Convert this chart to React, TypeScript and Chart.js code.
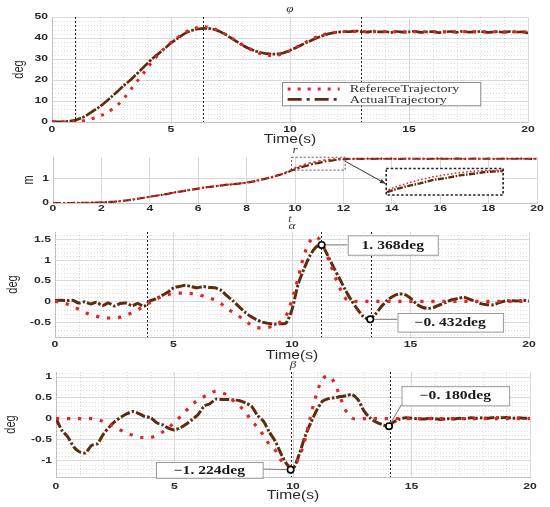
import React, { useEffect, useRef } from "react";
import { Chart, registerables } from "chart.js";
Chart.register(...registerables);

// ---------------- data (time step 0.25 s) ----------------
const T = [
  0, 0.25, 0.5, 0.75, 1, 1.25, 1.5, 1.75, 2, 2.25, 2.5, 2.75, 3, 3.25, 3.5, 3.75,
  4, 4.25, 4.5, 4.75, 5, 5.25, 5.5, 5.75, 6, 6.25, 6.5, 6.75, 7, 7.25, 7.5, 7.75,
  8, 8.25, 8.5, 8.75, 9, 9.25, 9.5, 9.75, 10, 10.25, 10.5, 10.75, 11, 11.25, 11.5, 11.75,
  12, 12.25, 12.5, 12.75, 13, 13.25, 13.5, 13.75, 14, 14.25, 14.5, 14.75, 15, 15.25, 15.5, 15.75,
  16, 16.25, 16.5, 16.75, 17, 17.25, 17.5, 17.75, 18, 18.25, 18.5, 18.75, 19, 19.25, 19.5, 19.75,
  20,
];

const PHI_REF = [
  0, 0, 0, 0,
  0.1, 0.4, 1.0, 1.8,
  2.8, 4.0, 5.8, 8.0,
  11.0, 14.6, 18.3, 21.8,
  25.6, 29.2, 32.4, 35.4,
  37.9, 40.0, 42.0, 43.6,
  44.6, 45.3, 45.3, 44.6,
  43.5, 42.0, 40.3, 38.5,
  36.8, 35.2, 33.8, 32.6,
  31.9, 31.6, 31.9, 32.8,
  34.0, 35.5, 37.0, 38.5,
  40.0, 41.0, 41.9, 42.4,
  42.8, 43.0, 43.1, 43.1,
  43.1, 43.0, 43.0, 43.0,
  43.0, 43.0, 43.0, 43.0,
  43.0, 43.0, 43.0, 43.0,
  43.0, 43.0, 43.0, 43.0,
  43.0, 43.0, 43.0, 43.0,
  43.0, 43.0, 43.0, 43.0,
  43.0, 43.0, 43.0, 43.0,
  43.0,
];
const PHI_ACT = [
  0.2, 0.1, 0.2, 0.4,
  0.9, 2.0, 3.5, 5.4,
  7.2, 9.5, 12.0, 14.5,
  17.2, 19.5, 22.2, 25.0,
  27.8, 30.5, 32.8, 35.2,
  37.6, 39.6, 41.6, 43.1,
  44.0, 44.5, 44.6, 44.3,
  43.3, 41.9, 40.2, 38.4,
  36.6, 35.1, 34.0, 33.1,
  32.6, 32.3, 32.4, 33.0,
  34.2, 35.4, 36.8, 38.1,
  39.4, 40.6, 41.6, 42.3,
  42.8, 43.0, 43.0, 43.4,
  43.0, 42.8, 43.3, 42.9,
  43.0, 42.7, 43.1, 42.8,
  42.9, 43.2, 42.7, 42.9,
  43.0, 42.6, 42.9, 43.1,
  42.7, 43.2, 42.8, 42.9,
  43.1, 42.7, 42.8, 43.0,
  42.7, 43.1, 42.8, 42.9,
  42.4,
];

const R_REF = [
  0, 0, 0, 0,
  0.005, 0.008, 0.012, 0.018,
  0.025, 0.035, 0.05, 0.07,
  0.1, 0.13, 0.17, 0.21,
  0.25, 0.29, 0.33, 0.37,
  0.42, 0.46, 0.5, 0.54,
  0.58, 0.62, 0.65, 0.68,
  0.71, 0.74, 0.76, 0.79,
  0.83, 0.87, 0.92, 0.98,
  1.04, 1.11, 1.19, 1.29,
  1.41, 1.5, 1.58, 1.64,
  1.69, 1.73, 1.76, 1.775,
  1.78, 1.78, 1.78, 1.78,
  1.78, 1.78, 1.78, 1.78,
  1.78, 1.78, 1.78, 1.78,
  1.78, 1.78, 1.78, 1.78,
  1.78, 1.78, 1.78, 1.78,
  1.78, 1.78, 1.78, 1.78,
  1.78, 1.78, 1.78, 1.78,
  1.78, 1.78, 1.78, 1.78,
  1.78,
];
const R_ACT = [
  0, 0, 0, 0,
  0.004, 0.007, 0.011, 0.017,
  0.024, 0.034, 0.05, 0.07,
  0.1, 0.13, 0.17, 0.21,
  0.25, 0.29, 0.33, 0.37,
  0.42, 0.46, 0.5, 0.54,
  0.58, 0.62, 0.65, 0.68,
  0.71, 0.74, 0.76, 0.79,
  0.82, 0.86, 0.91, 0.97,
  1.03, 1.1, 1.17, 1.26,
  1.36, 1.44, 1.5, 1.575,
  1.615, 1.672, 1.705, 1.745,
  1.762, 1.775, 1.78, 1.777,
  1.781, 1.778, 1.782, 1.779,
  1.781, 1.777, 1.78, 1.782,
  1.779, 1.781, 1.778, 1.78,
  1.782, 1.779, 1.78, 1.781,
  1.778, 1.78, 1.782, 1.779,
  1.781, 1.778, 1.78, 1.781,
  1.779, 1.782, 1.78, 1.778,
  1.78,
];

const ALPHA_REF = [
  0, -0.02, -0.06, -0.12,
  -0.19, -0.26, -0.32, -0.36,
  -0.39, -0.4, -0.4, -0.38,
  -0.33, -0.27, -0.2, -0.12,
  -0.03, 0.05, 0.11, 0.16,
  0.19, 0.2, 0.2, 0.19,
  0.17, 0.13, 0.09, 0.03,
  -0.05, -0.17, -0.26, -0.35,
  -0.46, -0.56, -0.63, -0.64,
  -0.63, -0.58, -0.5, -0.35,
  0.05, 0.55, 1.1, 1.45,
  1.57, 1.42, 1.08, 0.7,
  0.35, 0.08, 0, 0,
  0, 0, 0, 0,
  0, 0, 0, 0,
  0, 0, 0, 0,
  0, 0, 0, 0,
  0, 0, 0, 0,
  0, 0, 0, 0,
  0, 0, 0, 0,
  0,
];
const ALPHA_ACT = [
  0.02, 0.03, 0.02, 0.03,
  -0.04, -0.01, -0.06, -0.02,
  -0.1, -0.04, -0.11, -0.05,
  -0.04, -0.1, -0.05, -0.12,
  0.01, 0.06, 0.14, 0.22,
  0.33, 0.36, 0.39, 0.36,
  0.33, 0.36, 0.34, 0.33,
  0.27, 0.14, 0.02, -0.12,
  -0.25, -0.36, -0.44, -0.5,
  -0.53, -0.55, -0.54, -0.52,
  -0.2, 0.4, 0.78, 1.1,
  1.31, 1.37, 1.12, 0.83,
  0.56, 0.28, 0.03, -0.18,
  -0.36, -0.43, -0.32, -0.14,
  0.02, 0.12, 0.18, 0.17,
  0.08, -0.06, -0.14, -0.17,
  -0.14, -0.08, -0.02, 0.04,
  0.07, 0.1, 0.05, 0.0,
  -0.06, -0.08, -0.08, -0.03,
  0.01, 0.02, 0.01, 0.03,
  0.01,
];

const BETA_REF = [
  0, 0, 0, 0,
  0, 0, 0, -0.02,
  -0.07, -0.13, -0.2, -0.28,
  -0.35, -0.4, -0.44, -0.46,
  -0.45, -0.4, -0.32, -0.22,
  -0.08, 0.05, 0.2, 0.34,
  0.45, 0.53, 0.6, 0.66,
  0.62, 0.56, 0.42, 0.3,
  0.16, -0.06, -0.2, -0.4,
  -0.62, -0.76, -1.0, -1.12,
  -1.15, -0.93, -0.52, 0.08,
  0.6, 0.95, 1.03, 0.86,
  0.5, 0.17, 0.01, 0,
  0, 0, 0, 0,
  0, 0, 0, 0,
  0, 0, 0, 0,
  0, 0, 0, 0,
  0, 0, 0, 0,
  0, 0, 0, 0,
  0, 0, 0, 0,
  0,
];
const BETA_ACT = [
  0.0, -0.28, -0.44, -0.68,
  -0.8, -0.82, -0.64, -0.6,
  -0.37, -0.2, -0.06, 0.04,
  0.12, 0.17, 0.12, 0.05,
  0.02, -0.1, -0.15, -0.23,
  -0.27, -0.22, -0.13, -0.02,
  0.1, 0.3, 0.36, 0.47,
  0.46, 0.46, 0.45, 0.43,
  0.38, 0.3, 0.08, -0.06,
  -0.32, -0.54, -0.85, -1.1,
  -1.2, -0.88, -0.44, -0.1,
  0.2, 0.42, 0.48, 0.5,
  0.53, 0.55, 0.58, 0.45,
  0.18, 0.02, -0.08, -0.14,
  -0.18, -0.08, -0.01, 0.02,
  0.01, 0.0, -0.01, 0.01,
  0.0, -0.02, 0.0, -0.01,
  0.01, 0.0, 0.02, 0.01,
  0.02, 0.01, 0.03, 0.02,
  0.03, 0.01, 0.02, 0.01,
  0.01,
];

// reference lines and annotations (data units)
const PHI_VLINES = [0.95, 6.35, 13.0];
const ALPHA_VLINES = [3.87, 11.22, 13.32];
const BETA_VLINES = [9.9, 14.1];

const ALPHA_NOTES = [
  { x: 11.25, y: 1.368, label: "1. 368deg", box: [12.35, 16.15, 1.13, 1.6], to: [12.35, 1.368] },
  { x: 13.3, y: -0.432, label: "\u22120. 432deg", box: [14.45, 18.9, -0.73, -0.28], to: [14.45, -0.432] },
];
const BETA_NOTES = [
  { x: 9.9, y: -1.224, label: "\u22121. 224deg", box: [4.22, 8.72, -1.42, -1.04], to: [8.72, -1.21] },
  { x: 14.05, y: -0.18, label: "\u22120. 180deg", box: [14.58, 19.12, 0.32, 0.78], to: [14.58, 0.34] },
];

const LEGEND_LABELS = ["RefereceTrajectory", "ActualTrajectory"];
const PHI_LEGEND_BOX = [9.65, 17.98, 7.9, 19.0];

const ZOOM_SRC = [9.86, 12.07, 1.32, 1.84];
const ZOOM_WIN = [9.86, 12.07, 1.25, 1.82];
const INSET_BOX = [13.77, 18.6, 0.32, 1.39];
const ARROW = [12.07, 1.68, 13.74, 0.78];

// ---------------- styling ----------------
const RED = "#e2232a";
const BROWN = "#5e2c0c";
const GRID = "#dadada";
const SANS = '"Liberation Sans", Arial, sans-serif';
const SERIF = '"Liberation Serif", "Times New Roman", serif';
const TICK_FONT = `bold 9px ${SANS}`;
const TICK_SX = 1.35;

function drawText(ctx: any, s: string, x: number, y: number, font: string, color: string, align = "center", sx = 1, rot = 0, sy = 1) {
  ctx.save();
  ctx.font = font;
  ctx.fillStyle = color;
  ctx.textAlign = align;
  ctx.textBaseline = "middle";
  ctx.translate(x, y);
  if (rot) ctx.rotate(rot);
  ctx.scale(sx, sy);
  ctx.fillText(s, 0, 0);
  ctx.restore();
}

function line(ctx: any, x0: number, y0: number, x1: number, y1: number) {
  ctx.beginPath();
  ctx.moveTo(x0, y0);
  ctx.lineTo(x1, y1);
  ctx.stroke();
}

const fmt = (v: number) => String(Math.round(v * 1000) / 1000);

const PANELS: any[] = [
  {
    key: "phi", top: 0, height: 150, left: 52, right: 528, plotTop: 17, plotBottom: 122,
    yMin: 0, yMax: 50, yStep: 10, xStep: 5, xMinor: 1, yMinor: 2,
    ref: PHI_REF, act: PHI_ACT,
    refStyle: { w: 3, dash: [3, 7] }, actStyle: { w: 2.7, dash: [12, 1.5, 2.5, 1.5] },
    title: "\u03c6", titleY: 9, ylabel: "deg", ylabelX: 19, xlabel: "Time(s)", xlabelY: 140, xTickY: 130,
    vlines: PHI_VLINES, notes: [], legend: true, inset: false,
  },
  {
    key: "r", top: 145, height: 82, left: 53, right: 537, plotTop: 157, plotBottom: 203,
    yMin: 0, yMax: 1.85, yStep: 1, xStep: 2, xMinor: 0, yMinor: 0,
    ref: R_REF, act: R_ACT,
    refStyle: { w: 1.6, dash: [2.5, 2.5] }, actStyle: { w: 2.2, dash: [8, 2, 2, 2] },
    title: "r", titleY: 150, ylabel: "m", ylabelX: 29, xlabel: null, xlabelY: 0, xTickY: 209,
    sub: { text: "t", y: 219 },
    vlines: [], notes: [], legend: false, inset: true,
  },
  {
    key: "alpha", top: 218, height: 148, left: 55, right: 529, plotTop: 232, plotBottom: 337,
    yMin: -0.86, yMax: 1.68, yStep: 0.5, xStep: 5, xMinor: 1, yMinor: 0.1,
    ref: ALPHA_REF, act: ALPHA_ACT,
    refStyle: { w: 3.2, dash: [3.2, 7.8] }, actStyle: { w: 3, dash: [10, 2, 2.5, 2] },
    title: "\u03b1", titleY: 226, ylabel: "deg", ylabelX: 13, xlabel: "Time(s)", xlabelY: 356, xTickY: 345,
    vlines: ALPHA_VLINES, notes: ALPHA_NOTES, legend: false, inset: false,
  },
  {
    key: "beta", top: 358, height: 149, left: 56, right: 530, plotTop: 372, plotBottom: 477,
    yMin: -1.4, yMax: 1.12, yStep: 0.5, xStep: 5, xMinor: 1, yMinor: 0.1,
    ref: BETA_REF, act: BETA_ACT,
    refStyle: { w: 3.2, dash: [3.2, 7.8] }, actStyle: { w: 3, dash: [10, 2, 2.5, 2] },
    title: "\u03b2", titleY: 365, ylabel: "deg", ylabelX: 11, xlabel: "Time(s)", xlabelY: 496, xTickY: 487,
    vlines: BETA_VLINES, notes: BETA_NOTES, legend: false, inset: false,
  },
];

function drawInset(chart: any) {
  const { ctx } = chart;
  const xs = chart.scales.x, ys = chart.scales.y;
  const px = (v: number) => xs.getPixelForValue(v);
  const py = (v: number) => ys.getPixelForValue(v);
  ctx.save();
  ctx.strokeStyle = "#555";
  ctx.lineWidth = 1;
  ctx.setLineDash([2, 2]);
  ctx.strokeRect(px(ZOOM_SRC[0]), py(ZOOM_SRC[3]), px(ZOOM_SRC[1]) - px(ZOOM_SRC[0]), py(ZOOM_SRC[2]) - py(ZOOM_SRC[3]));
  ctx.setLineDash([]);
  ctx.strokeStyle = "#333";
  ctx.fillStyle = "#333";
  const ax0 = px(ARROW[0]), ay0 = py(ARROW[1]), ax1 = px(ARROW[2]), ay1 = py(ARROW[3]);
  line(ctx, ax0, ay0, ax1, ay1);
  const ang = Math.atan2(ay1 - ay0, ax1 - ax0);
  ctx.beginPath();
  ctx.moveTo(ax1, ay1);
  ctx.lineTo(ax1 - 6 * Math.cos(ang - 0.4), ay1 - 6 * Math.sin(ang - 0.4));
  ctx.lineTo(ax1 - 6 * Math.cos(ang + 0.4), ay1 - 6 * Math.sin(ang + 0.4));
  ctx.closePath();
  ctx.fill();
  const L = px(INSET_BOX[0]), R = px(INSET_BOX[1]), Tp = py(INSET_BOX[3]), B = py(INSET_BOX[2]);
  ctx.fillStyle = "#fff";
  ctx.fillRect(L, Tp, R - L, B - Tp);
  const mx = (t: number) => L + ((t - ZOOM_WIN[0]) / (ZOOM_WIN[1] - ZOOM_WIN[0])) * (R - L);
  const my = (v: number) => B - ((v - ZOOM_WIN[2]) / (ZOOM_WIN[3] - ZOOM_WIN[2])) * (B - Tp);
  ctx.save();
  ctx.beginPath();
  ctx.rect(L, Tp, R - L, B - Tp);
  ctx.clip();
  const path = (arr: number[], color: string, w: number, dash: number[]) => {
    ctx.beginPath();
    let started = false;
    T.forEach((t, i) => {
      if (t < ZOOM_WIN[0] - 0.5 || t > ZOOM_WIN[1] + 0.5) return;
      if (!started) { ctx.moveTo(mx(t), my(arr[i])); started = true; }
      else ctx.lineTo(mx(t), my(arr[i]));
    });
    ctx.strokeStyle = color;
    ctx.lineWidth = w;
    ctx.setLineDash(dash);
    ctx.stroke();
  };
  path(R_ACT, BROWN, 2.4, [6, 1.5, 1.5, 1.5]);
  path(R_REF, RED, 1.5, [1.6, 2.2]);
  ctx.restore();
  ctx.strokeStyle = "#222";
  ctx.lineWidth = 1.6;
  ctx.setLineDash([2.5, 2]);
  ctx.strokeRect(L, Tp, R - L, B - Tp);
  ctx.restore();
}

function decor(p: any) {
  return {
    id: "decor_" + p.key,
    beforeDatasetsDraw(chart: any) {
      const { ctx, chartArea: a } = chart;
      const xs = chart.scales.x, ys = chart.scales.y;
      ctx.save();
      ctx.strokeStyle = "rgba(0,0,0,0.16)";
      ctx.lineWidth = 0.8;
      ctx.setLineDash([1, 2]);
      if (p.xMinor) {
        for (let v = p.xMinor; v < 20 - 1e-6; v += p.xMinor) {
          if (Math.abs(v / p.xStep - Math.round(v / p.xStep)) < 1e-6) continue;
          const X = Math.round(xs.getPixelForValue(v)) + 0.5;
          line(ctx, X, a.top, X, a.bottom);
        }
      }
      if (p.yMinor) {
        const start = Math.ceil(p.yMin / p.yMinor) * p.yMinor;
        for (let v = start; v < p.yMax - 1e-6; v += p.yMinor) {
          if (Math.abs(v / p.yStep - Math.round(v / p.yStep)) < 1e-6) continue;
          const Y = Math.round(ys.getPixelForValue(v)) + 0.5;
          line(ctx, a.left, Y, a.right, Y);
        }
      }
      ctx.strokeStyle = "#222";
      ctx.lineWidth = 1;
      ctx.setLineDash([2, 2]);
      p.vlines.forEach((v: number) => {
        const X = Math.round(xs.getPixelForValue(v)) + 0.5;
        line(ctx, X, a.top, X, a.bottom);
      });
      ctx.restore();
    },
    afterDatasetsDraw(chart: any) {
      const { ctx } = chart;
      const xs = chart.scales.x, ys = chart.scales.y;
      const px = (v: number) => xs.getPixelForValue(v);
      const py = (v: number) => ys.getPixelForValue(v);
      p.notes.forEach((n: any) => {
        ctx.save();
        ctx.strokeStyle = "#777";
        ctx.lineWidth = 1;
        line(ctx, px(n.x), py(n.y), px(n.to[0]), py(n.to[1]));
        const bx0 = px(n.box[0]), bx1 = px(n.box[1]), byT = py(n.box[3]), byB = py(n.box[2]);
        ctx.fillStyle = "#fff";
        ctx.fillRect(bx0, byT, bx1 - bx0, byB - byT);
        ctx.strokeStyle = "#9a9a9a";
        ctx.strokeRect(bx0 + 0.5, byT + 0.5, bx1 - bx0, byB - byT);
        drawText(ctx, n.label, (bx0 + bx1) / 2, (byT + byB) / 2 + 0.5, `bold 12px ${SERIF}`, "#1a1a1a", "center", 1.3);
        ctx.beginPath();
        ctx.arc(px(n.x), py(n.y), 3.2, 0, Math.PI * 2);
        ctx.fillStyle = "#fff";
        ctx.fill();
        ctx.strokeStyle = "#000";
        ctx.lineWidth = 1.6;
        ctx.stroke();
        ctx.restore();
      });
      if (p.legend) {
        const ds = chart.data.datasets;
        const L = px(PHI_LEGEND_BOX[0]), R = px(PHI_LEGEND_BOX[1]);
        const Tp = py(PHI_LEGEND_BOX[3]), B = py(PHI_LEGEND_BOX[2]);
        ctx.save();
        ctx.fillStyle = "#fff";
        ctx.fillRect(L, Tp, R - L, B - Tp);
        ctx.strokeStyle = "#8c8c8c";
        ctx.lineWidth = 1;
        ctx.strokeRect(Math.round(L) + 0.5, Math.round(Tp) + 0.5, R - L, B - Tp);
        const rows = [Tp + (B - Tp) * 0.3, Tp + (B - Tp) * 0.74];
        ds.forEach((d: any, i: number) => {
          ctx.save();
          ctx.strokeStyle = d.borderColor;
          ctx.lineWidth = i === 0 ? 3 : 2.8;
          ctx.setLineDash(i === 0 ? [3, 7] : [14, 5, 3, 5]);
          line(ctx, L + 6, rows[i], L + 58, rows[i]);
          ctx.restore();
          drawText(ctx, LEGEND_LABELS[i], L + 68, rows[i] + 0.5, `11px ${SERIF}`, "#333", "left", 1.3);
        });
        ctx.restore();
      }
      if (p.inset) drawInset(chart);
    },
    afterDraw(chart: any) {
      const { ctx, chartArea: a } = chart;
      const xs = chart.scales.x, ys = chart.scales.y;
      const cx = (a.left + a.right) / 2;
      xs.ticks.forEach((t: any) => {
        drawText(ctx, fmt(t.value), xs.getPixelForValue(t.value), p.xTickY - p.top, TICK_FONT, "#2a2a2a", "center", TICK_SX);
      });
      ys.ticks.forEach((t: any) => {
        drawText(ctx, fmt(t.value), a.left - 4, ys.getPixelForValue(t.value), TICK_FONT, "#2a2a2a", "right", TICK_SX);
      });
      drawText(ctx, p.title, cx, p.titleY - p.top, `italic 11px ${SERIF}`, "#333", "center", 1.2);
      drawText(ctx, p.ylabel, p.ylabelX, (a.top + a.bottom) / 2, `11px ${SANS}`, "#2a2a2a", "center", 1, -Math.PI / 2, 1.35);
      if (p.xlabel) drawText(ctx, p.xlabel, cx, p.xlabelY - p.top, `12px ${SANS}`, "#2a2a2a", "center", 1.3);
      if (p.sub) drawText(ctx, p.sub.text, cx - 5, p.sub.y - p.top, `italic 10px ${SERIF}`, "#333", "center", 1.2);
    },
  };
}

function makeChart(canvas: HTMLCanvasElement, p: any) {
  return new Chart(canvas, {
    type: "line",
    data: {
      datasets: [
        {
          label: LEGEND_LABELS[0],
          data: T.map((t, i) => ({ x: t, y: p.ref[i] })),
          borderColor: RED,
          borderWidth: p.refStyle.w,
          borderDash: p.refStyle.dash,
          borderCapStyle: "butt",
          pointRadius: 0,
          tension: 0.35,
          fill: false,
          order: 0,
        },
        {
          label: LEGEND_LABELS[1],
          data: T.map((t, i) => ({ x: t, y: p.act[i] })),
          borderColor: BROWN,
          borderWidth: p.actStyle.w,
          borderDash: p.actStyle.dash,
          pointRadius: 0,
          tension: 0.25,
          fill: false,
          order: 1,
        },
      ],
    },
    options: {
      animation: false,
      responsive: false,
      events: [],
      layout: { padding: { left: 0, right: 550 - p.right, top: p.plotTop - p.top, bottom: 0 } },
      plugins: { legend: { display: false }, tooltip: { enabled: false } },
      scales: {
        x: {
          type: "linear",
          min: 0,
          max: 20,
          ticks: { stepSize: p.xStep, display: false, maxRotation: 0, autoSkip: false, includeBounds: false },
          grid: { color: GRID, drawTicks: false },
          border: { color: "#c4c4c4" },
          afterFit: (s: any) => { s.height = p.top + p.height - p.plotBottom; },
        },
        y: {
          type: "linear",
          min: p.yMin,
          max: p.yMax,
          ticks: { stepSize: p.yStep, display: false, includeBounds: false },
          grid: { color: GRID, drawTicks: false },
          border: { color: "#c4c4c4" },
          afterFit: (s: any) => { s.width = p.left; },
        },
      },
    } as any,
    plugins: [decor(p)],
  });
}

export default function App() {
  const refs = useRef<(HTMLCanvasElement | null)[]>([]);
  useEffect(() => {
    document.body.style.margin = "0";
    const charts = PANELS.map((p, i) => makeChart(refs.current[i] as HTMLCanvasElement, p));
    return () => charts.forEach((c) => c.destroy());
  }, []);
  return (
    <div style={{ position: "fixed", left: 0, top: 0, width: 550, height: 507, background: "#fff", overflow: "hidden" }}>
      {PANELS.map((p, i) => (
        <canvas
          key={p.key}
          ref={(el) => { refs.current[i] = el; }}
          width={550}
          height={p.height}
          style={{ position: "absolute", left: 0, top: p.top, width: 550, height: p.height }}
        />
      ))}
    </div>
  );
}
